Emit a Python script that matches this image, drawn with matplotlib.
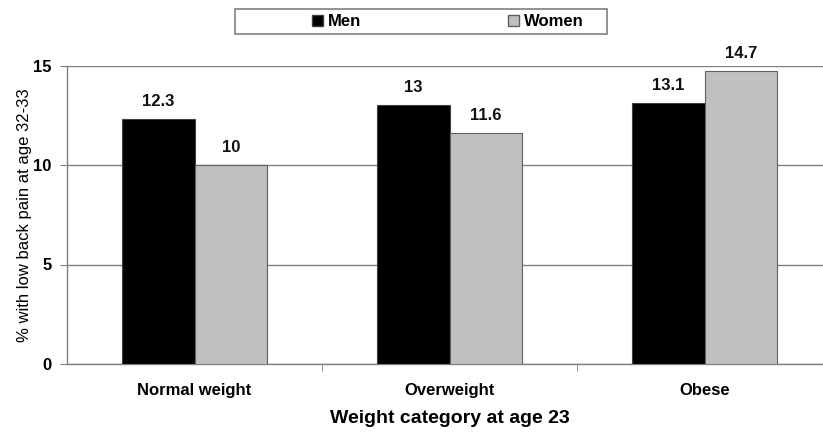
import numpy as np
import matplotlib.pyplot as plt
from matplotlib.patches import Patch, Rectangle

categories = ["Normal weight", "Overweight", "Obese"]
men = [12.3, 13.0, 13.1]
women = [10.0, 11.6, 14.7]
men_labels = ["12.3", "13", "13.1"]
women_labels = ["10", "11.6", "14.7"]
yticks = [0, 5, 10, 15]

plt.rcParams["font.family"] = ["Liberation Sans", "DejaVu Sans"]
W, H = 823, 433
fig = plt.figure(figsize=(W / 100, H / 100), dpi=100)

# plot area runs past the right edge (the original is cropped)
x0, x1, y0, y1 = 67, 832, 364, 65.5
ax = fig.add_axes([x0 / W, 1 - y0 / H, (x1 - x0) / W, (y0 - y1) / H])

grey_line = "#808080"
x = np.arange(len(categories))
bw = 0.285
b1 = ax.bar(x - bw / 2, men, bw, color="black", edgecolor="#404040", linewidth=0.8, zorder=3)
b2 = ax.bar(x + bw / 2, women, bw, color="#c0c0c0", edgecolor="#606060", linewidth=0.8, zorder=3)

for bars, labels in ((b1, men_labels), (b2, women_labels)):
    for rect, lab in zip(bars, labels):
        ax.annotate(lab, (rect.get_x() + rect.get_width() / 2, rect.get_height()),
                    xytext=(0, 7.5), textcoords="offset points", ha="center", va="bottom",
                    fontsize=12, fontweight="bold", color="#111111")

ax.set_xlim(-0.5, len(categories) - 0.5)
ax.set_ylim(0, 15)
ax.set_yticks(yticks)
ax.set_yticklabels([str(t) for t in yticks], fontsize=12, fontweight="bold")
ax.yaxis.grid(True, color=grey_line, linewidth=1)
ax.set_axisbelow(True)

ax.set_xticks(x)
ax.set_xticklabels(categories, fontsize=12, fontweight="bold")
ax.set_xticks(x[:-1] + 0.5, minor=True)
ax.tick_params(axis="x", which="major", length=0, pad=14)
ax.tick_params(axis="x", which="minor", length=5, color=grey_line, direction="out")
ax.tick_params(axis="y", length=5, color=grey_line, pad=6)

for s in ("top", "right"):
    ax.spines[s].set_visible(False)
for s in ("left", "bottom"):
    ax.spines[s].set_color(grey_line)
    ax.spines[s].set_linewidth(1)

ax.set_xlabel("Weight category at age 23", fontsize=14, fontweight="bold", labelpad=8)
ax.set_ylabel("% with low back pain at age 32-33", fontsize=12, labelpad=1)

# legend box drawn separately so its padding matches the original
fig.patches.append(Rectangle((235 / W, 1 - 34 / H), (607 - 235) / W, 25 / H,
                             transform=fig.transFigure, facecolor="white",
                             edgecolor=grey_line, linewidth=1.2))
handles = [Patch(facecolor="black", edgecolor="#404040"),
           Patch(facecolor="#c0c0c0", edgecolor="#606060")]
fig.legend(handles, ["Men", "Women"], loc="center",
           bbox_to_anchor=(448 / W, 1 - 21.5 / H), ncol=2,
           prop={"size": 12, "weight": "bold"}, frameon=False,
           handlelength=0.65, handleheight=0.65, handletextpad=0.3,
           columnspacing=8.8, borderpad=0.2)

fig.savefig("out.png", dpi=100)
